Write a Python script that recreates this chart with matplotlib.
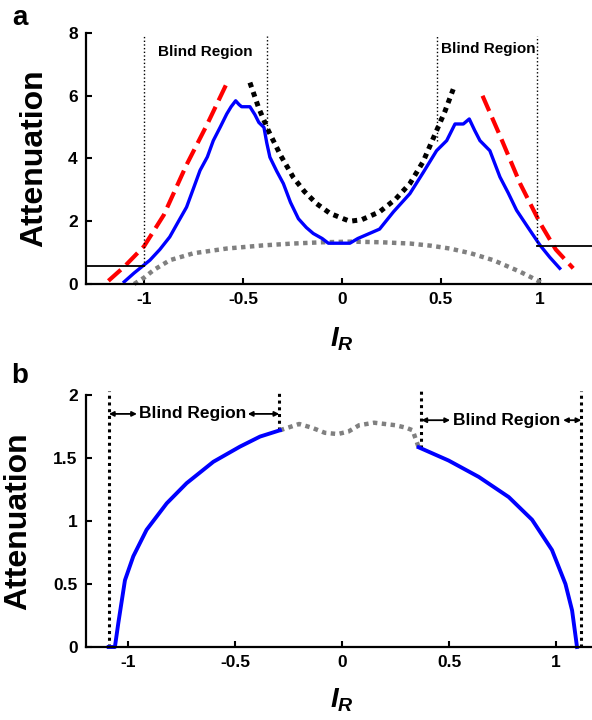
import matplotlib as mlp
mlp.use('Agg')
import matplotlib.pyplot as plt

mlp.rcParams['font.family'] = 'Liberation Sans'
mlp.rcParams['font.weight'] = 'bold'
mlp.rcParams['mathtext.fontset'] = 'custom'
mlp.rcParams['mathtext.it'] = 'Liberation Sans:italic:bold'
mlp.rcParams['mathtext.rm'] = 'Liberation Sans:bold'

# ---- panel a data ----
blueA_x = [-1.10, -1.05, -0.97, -0.92, -0.87, -0.83, -0.785, -0.75, -0.717, -0.68, -0.65,
           -0.615, -0.582, -0.56, -0.537, -0.52, -0.507, -0.465, -0.44, -0.42, -0.394, -0.38,
           -0.364, -0.33, -0.296, -0.26, -0.22, -0.18, -0.145, -0.10, -0.069, 0.04, 0.08,
           0.19, 0.26, 0.343, 0.41, 0.478, 0.529, 0.571, 0.613, 0.643, 0.67, 0.697, 0.747,
           0.798, 0.84, 0.882, 0.94, 1.0, 1.05, 1.10]
blueA_y = [0.07, 0.35, 0.76, 1.1, 1.5, 1.95, 2.45, 3.05, 3.62, 4.05, 4.57,
           5.0, 5.42, 5.65, 5.84, 5.72, 5.65, 5.65, 5.4, 5.15, 4.99, 4.5,
           4.04, 3.6, 3.2, 2.6, 2.08, 1.8, 1.61, 1.45, 1.3, 1.3, 1.45,
           1.75, 2.3, 2.88, 3.55, 4.25, 4.57, 5.1, 5.1, 5.26, 4.9, 4.57, 4.25,
           3.41, 2.9, 2.35, 1.8, 1.24, 0.85, 0.5]

blackA_x = [-0.465, -0.42, -0.372, -0.31, -0.246, -0.19, -0.128, -0.06, 0.007, 0.04, 0.1,
            0.19, 0.27, 0.343, 0.41, 0.478, 0.52, 0.562]
blackA_y = [6.42, 5.6, 4.89, 4.1, 3.4, 2.95, 2.56, 2.25, 2.08, 2.0, 2.05,
            2.3, 2.7, 3.2, 3.9, 4.89, 5.5, 6.21]

grayA_x = [-1.05, -1.0, -0.95, -0.869, -0.75, -0.582, -0.4, -0.246, -0.1, 0.05, 0.2,
           0.343, 0.45, 0.545, 0.65, 0.764, 0.9, 0.96, 1.02]
grayA_y = [0.0, 0.2, 0.45, 0.76, 0.98, 1.13, 1.23, 1.29, 1.33, 1.35, 1.33,
           1.29, 1.22, 1.13, 0.98, 0.76, 0.39, 0.2, 0.0]

redL_x = [-1.18, -1.1, -1.0, -0.9, -0.785, -0.68, -0.574]
redL_y = [0.1, 0.55, 1.2, 2.2, 3.8, 5.1, 6.5]
redR_x = [0.71, 0.8, 0.9, 1.0, 1.08, 1.168]
redR_y = [6.0, 4.7, 3.2, 1.95, 1.1, 0.5]

# blind region borders (x, y bottom) and threshold levels
vlinesA = [(-0.998, 0.57), (-0.377, 4.8), (0.478, 4.57), (0.987, 1.22)]
threshA_left = 0.57
threshA_right = 1.22

# ---- panel b data ----
blueBL_x = [-1.09, -1.061, -1.045, -1.014, -0.975, -0.913, -0.819, -0.726, -0.601,
            -0.477, -0.383, -0.29]
blueBL_y = [0, 0, 0.19, 0.53, 0.72, 0.93, 1.14, 1.30, 1.47, 1.59, 1.67, 1.72]
blueBR_x = [0.358, 0.498, 0.639, 0.779, 0.888, 0.981, 1.044, 1.075, 1.098]
blueBR_y = [1.585, 1.48, 1.35, 1.19, 1.01, 0.77, 0.5, 0.29, 0.0]
grayB_x = [-0.29, -0.2, -0.14, -0.08, -0.02, 0.03, 0.08, 0.15, 0.25, 0.3, 0.33, 0.358]
grayB_y = [1.72, 1.77, 1.74, 1.70, 1.69, 1.71, 1.76, 1.78, 1.76, 1.74, 1.72, 1.585]
vlinesB = [(-1.089, 0.0), (-0.293, 1.72), (0.371, 1.58), (1.118, 0.0)]

xticks = [-1, -0.5, 0, 0.5, 1]
xticklabels = ['-1', '-0.5', '0', '0.5', '1']

fig = plt.figure(figsize=(5.92, 7.2), dpi=100)


def style(ax):
    for s in ['top', 'right']:
        ax.spines[s].set_visible(False)
    for s in ['left', 'bottom']:
        ax.spines[s].set_linewidth(1.6)
    ax.tick_params(direction='in', length=4, width=1.5, labelsize=12.5, pad=6)
    ax.set_xticks(xticks)
    ax.set_xticklabels(xticklabels, fontweight='bold')


# panel a
axa = fig.add_axes([86/592, 1-284/720, 1-86/592, 251/720])
axa.set_xlim(-1.293, 1.263)
axa.set_ylim(0, 8)
style(axa)
axa.set_yticks([0, 2, 4, 6, 8])
axa.set_yticklabels(['0', '2', '4', '6', '8'], fontweight='bold')

axa.plot(grayA_x, grayA_y, color=(0.5, 0.5, 0.5), lw=3.2, dashes=(1, 1), clip_on=False)
axa.plot(blackA_x, blackA_y, color='black', lw=3.6, dashes=(1, 1))
axa.plot(redL_x, redL_y, color='red', lw=3, dashes=(4, 1.7))
axa.plot(redR_x, redR_y, color='red', lw=3, dashes=(4, 1.7))
axa.plot(blueA_x, blueA_y, color='blue', lw=2.4)
for vx, vy in vlinesA:
    axa.plot([vx, vx], [vy, 7.9], color='black', lw=1, ls=':')
axa.plot([-1.293, -0.998], [threshA_left, threshA_left], color='black', lw=1.3)
axa.plot([0.987, 1.263], [threshA_right, threshA_right], color='black', lw=1.3, clip_on=False)
axa.text(-0.69, 7.4, 'Blind Region', fontsize=11, fontweight='bold', ha='center', va='center')
axa.text(0.74, 7.48, 'Blind Region', fontsize=11, fontweight='bold', ha='center', va='center')
axa.set_ylabel('Attenuation', fontsize=23, fontweight='bold')
axa.yaxis.set_label_coords((49-86)/506, 0.5)
axa.set_xlabel('$I_R$', fontsize=20)
axa.xaxis.set_label_coords((342-86)/506, -(326-284)/251)

# panel b
axb = fig.add_axes([86/592, 1-647/720, 1-86/592, 252/720])
axb.set_xlim(-1.196, 1.168)
axb.set_ylim(0, 2)
style(axb)
axb.set_yticks([0, 0.5, 1, 1.5, 2])
axb.set_yticklabels(['0', '0.5', '1', '1.5', '2'], fontweight='bold')

for vx, vy in vlinesB:
    axb.plot([vx, vx], [vy, 2.03], color='black', lw=2.2, dashes=(1, 1.2), clip_on=False)
axb.plot(grayB_x, grayB_y, color=(0.5, 0.5, 0.5), lw=3.2, dashes=(1, 1))
axb.plot(blueBL_x, blueBL_y, color='blue', lw=2.8, clip_on=False)
axb.plot(blueBR_x, blueBR_y, color='blue', lw=2.8, clip_on=False)

axb.text(-0.699, 1.85, 'Blind Region', fontsize=12.5, fontweight='bold', ha='center', va='center')
axb.text(0.771, 1.80, 'Blind Region', fontsize=12.5, fontweight='bold', ha='center', va='center')
arrows = [(-1.089, -0.958, 1.85), (-0.44, -0.293, 1.85), (0.371, 0.505, 1.80), (1.033, 1.118, 1.80)]
for x1, x2, ya in arrows:
    axb.annotate('', xy=(x1, ya), xytext=(x2, ya),
                 arrowprops=dict(arrowstyle='<|-|>', color='black', lw=1.3,
                                 mutation_scale=7, shrinkA=0, shrinkB=0))
axb.set_ylabel('Attenuation', fontsize=23, fontweight='bold')
axb.yaxis.set_label_coords((33-86)/506, 0.5)
axb.set_xlabel('$I_R$', fontsize=20)
axb.xaxis.set_label_coords((342-86)/506, -(686-647)/252)

fig.text(20/592, 1-18/720, 'a', fontsize=20, fontweight='bold', ha='center', va='center')
fig.text(20/592, 1-376/720, 'b', fontsize=20, fontweight='bold', ha='center', va='center')

plt.savefig('out.png', dpi=100)
